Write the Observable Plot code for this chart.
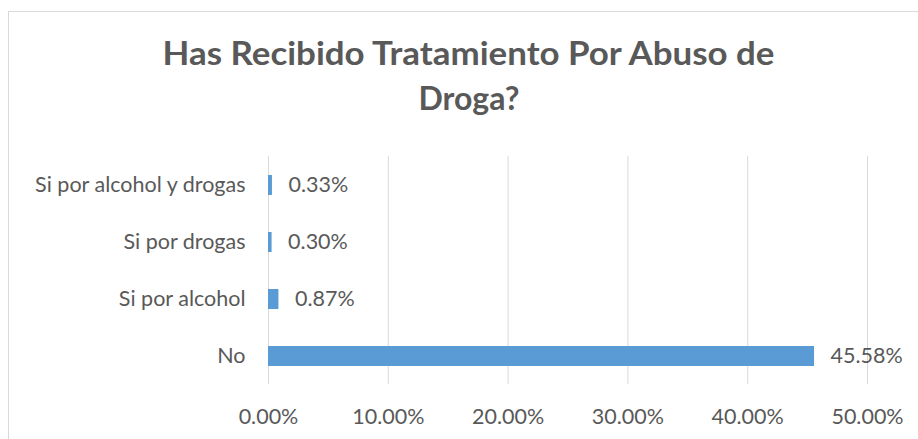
<!DOCTYPE html>
<html>
<head>
<meta charset="utf-8">
<script src="https://cdn.jsdelivr.net/npm/d3@7"></script>
<script src="https://cdn.jsdelivr.net/npm/@observablehq/plot@0.6"></script>
<style>
  html, body { margin: 0; padding: 0; background: #fff; overflow: hidden; width: 918px; height: 439px; }
  #wrap { position: relative; width: 918px; height: 439px; font-family: Lato, "Open Sans", sans-serif; }
  #frame { position: absolute; left: 8px; top: 11px; width: 930px; height: 450px; border: 1px solid #d9d9d9; box-sizing: border-box; }
  .title { position: absolute; left: 0; width: 938px; text-align: center; font-weight: bold; font-size: 32px; line-height: 32px; color: #595959; white-space: nowrap; }
  #chart { position: absolute; left: 0; top: 0; }
</style>
</head>
<body>
<div id="wrap">
  <div id="frame"></div>
  <div id="chart"></div>
  <div class="title" id="t1" style="top:37px">Has Recibido Tratamiento Por Abuso de</div>
  <div class="title" id="t2" style="top:82px">Droga?</div>
</div>
<script>
const categories = ["Si por alcohol y drogas", "Si por drogas", "Si por alcohol", "No"];
const values = [0.0033, 0.0030, 0.0087, 0.4558];
const valueLabels = ["0.33%", "0.30%", "0.87%", "45.58%"];
const xTicks = [0, 0.1, 0.2, 0.3, 0.4, 0.5];

const data = categories.map((c, i) => ({category: c, value: values[i], label: valueLabels[i]}));

const textColor = "#595959";
const fs = 21.5;
const chart = Plot.plot({
  width: 918,
  height: 439,
  marginLeft: 268,
  marginRight: 51,
  marginTop: 156,
  marginBottom: 55,
  style: {fontFamily: "Lato, 'Open Sans', sans-serif", fontSize: fs + "px", color: textColor, background: "transparent"},
  x: {domain: [0, 0.5], ticks: xTicks, tickFormat: d3.format(".2%")},
  y: {domain: categories, paddingInner: 0.65, paddingOuter: 0.325},
  marks: [
    Plot.gridX(xTicks, {stroke: "#d9d9d9", strokeOpacity: 1, strokeWidth: 1}),
    Plot.barX(data, {x: "value", y: "category", fill: "#5B9BD5"}),
    Plot.text(data, {x: "value", y: "category", text: "label", dx: 16, textAnchor: "start", fill: textColor, fontSize: fs}),
    Plot.axisX(xTicks, {tickSize: 0, tickPadding: 24, tickFormat: d3.format(".2%"), fill: textColor, fontSize: fs, label: null}),
    Plot.axisY({tickSize: 0, tickPadding: 23, fill: textColor, fontSize: fs, label: null})
  ]
});
document.getElementById("chart").appendChild(chart);

// fit title line to the reference width
function fit(id, target) {
  const el = document.getElementById(id);
  const span = document.createElement("span");
  span.textContent = el.textContent;
  el.textContent = "";
  el.appendChild(span);
  span.style.display = "inline-block";
  const w = span.getBoundingClientRect().width;
  span.style.transform = `scaleX(${target / w})`;
}
fit("t1", 612);
</script>
</body>
</html>
